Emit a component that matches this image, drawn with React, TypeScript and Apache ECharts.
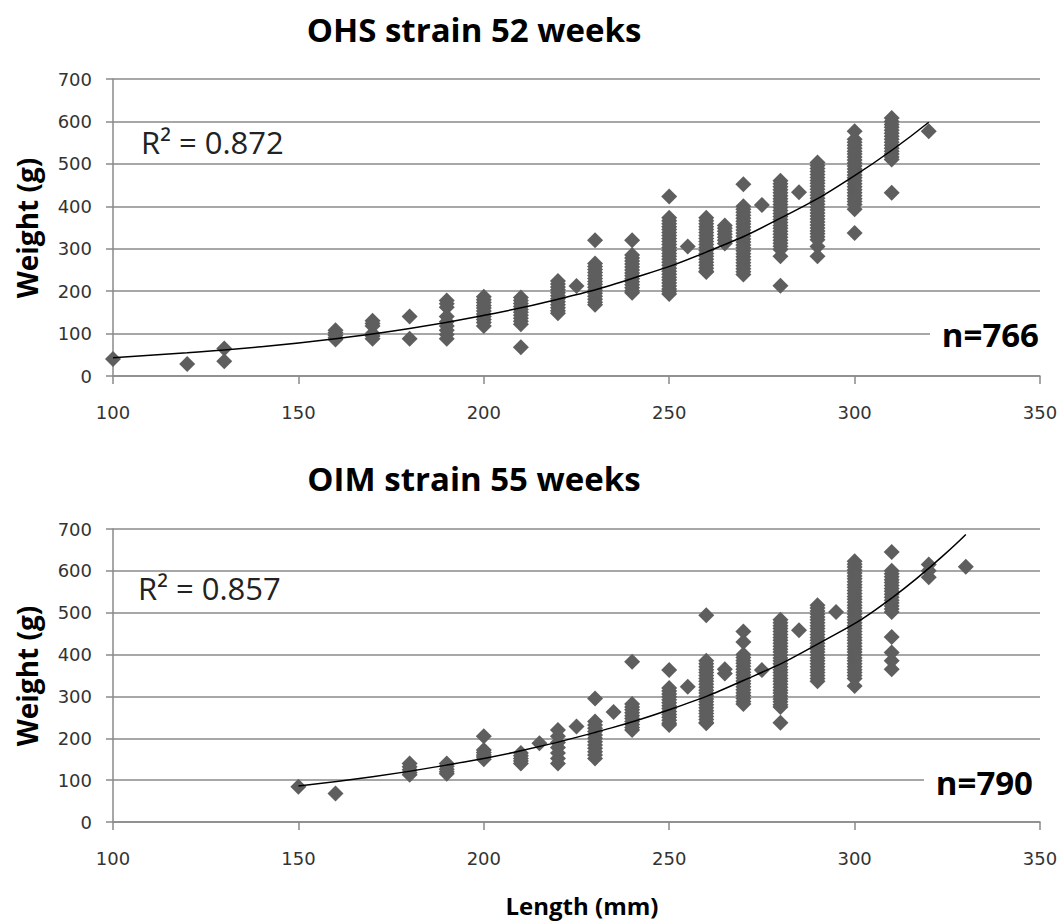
import React, { useEffect, useRef } from "react";
import * as echarts from "echarts";

// ---------- data ----------
const xMin = 100;
const xMax = 350;
const xStep = 50;
const yMin = 0;
const yMax = 700;
const yStep = 100;

// OHS strain 52 weeks: [length (mm), weights (g) observed at that length]
const ohsColumns: [number, number[]][] = [
  [100, [40]],
  [120, [28]],
  [130, [65, 35]],
  [160, [108, 102, 96, 90, 86]],
  [170, [130, 124, 118, 100, 94, 88]],
  [180, [140, 88]],
  [190, [178, 170, 162, 140, 128, 118, 108, 98, 88]],
  [200, [187, 180, 173, 166, 160, 153, 146, 140, 133, 126, 118]],
  [210, [185, 178, 171, 164, 157, 150, 143, 136, 129, 122, 68]],
  [220, [224, 217, 210, 203, 196, 189, 182, 175, 168, 161, 154, 148]],
  [225, [212]],
  [230, [320, 265, 258, 251, 244, 237, 230, 223, 216, 209, 202, 195, 188, 181, 174, 168]],
  [240, [320, 285, 278, 271, 264, 257, 250, 243, 236, 229, 222, 215, 208, 201, 196]],
  [250, [423, 373, 366, 359, 352, 345, 338, 331, 324, 317, 310, 303, 296, 289, 282, 275, 268, 261, 254, 247, 240, 233, 226, 219, 212, 205, 199, 193]],
  [255, [305]],
  [260, [373, 366, 359, 352, 345, 338, 331, 324, 317, 310, 303, 296, 289, 282, 275, 268, 261, 254, 247, 245]],
  [265, [355, 348, 341, 334, 327, 320, 312]],
  [270, [452, 400, 393, 386, 379, 372, 365, 358, 351, 344, 337, 330, 323, 316, 309, 302, 295, 288, 281, 274, 267, 260, 253, 246, 239]],
  [275, [403]],
  [280, [460, 453, 446, 439, 432, 425, 418, 411, 404, 397, 390, 383, 376, 369, 362, 355, 348, 341, 334, 327, 320, 313, 306, 298, 282, 213]],
  [285, [433]],
  [290, [503, 496, 489, 482, 475, 468, 461, 454, 447, 440, 433, 426, 419, 412, 405, 398, 391, 384, 377, 370, 363, 356, 349, 342, 335, 328, 321, 305, 282]],
  [300, [577, 558, 551, 544, 537, 530, 523, 516, 509, 502, 495, 488, 481, 474, 467, 460, 453, 446, 439, 432, 425, 418, 411, 404, 393, 337]],
  [310, [608, 600, 593, 586, 579, 572, 565, 558, 551, 544, 537, 530, 523, 516, 510, 432]],
  [320, [577]],
];
const ohsTrendX = [100, 120, 140, 160, 180, 200, 220, 240, 260, 280, 300, 320];
const ohsTrendY = [43, 55, 69, 88, 112, 143, 181, 230, 292, 372, 472, 598];

// OIM strain 55 weeks
const oimColumns: [number, number[]][] = [
  [150, [84]],
  [160, [68]],
  [180, [140, 132, 125, 118, 113]],
  [190, [140, 133, 126, 120, 115]],
  [200, [205, 172, 166, 160, 155, 150]],
  [210, [165, 158, 152, 146, 140]],
  [215, [188]],
  [220, [220, 205, 190, 178, 165, 152, 140]],
  [225, [228]],
  [230, [295, 240, 232, 224, 216, 208, 200, 192, 184, 176, 168, 160, 152]],
  [235, [263]],
  [240, [383, 282, 275, 268, 261, 254, 247, 240, 233, 226, 220]],
  [250, [363, 320, 313, 306, 299, 292, 285, 278, 271, 264, 257, 250, 243, 236, 232]],
  [255, [323]],
  [260, [494, 385, 378, 371, 364, 357, 350, 343, 336, 329, 322, 315, 308, 301, 294, 287, 280, 273, 266, 259, 252, 245, 238, 236]],
  [265, [365, 355]],
  [270, [455, 430, 400, 393, 386, 379, 372, 365, 358, 351, 344, 337, 330, 323, 316, 309, 302, 295, 288, 282]],
  [275, [363]],
  [280, [483, 476, 469, 462, 455, 448, 441, 434, 427, 420, 413, 406, 399, 392, 385, 378, 371, 364, 357, 350, 343, 336, 329, 322, 315, 308, 301, 294, 287, 280, 275, 237]],
  [285, [458]],
  [290, [518, 511, 504, 497, 490, 483, 476, 469, 462, 455, 448, 441, 434, 427, 420, 413, 406, 399, 392, 385, 378, 371, 364, 357, 350, 343, 336]],
  [295, [502]],
  [300, [623, 616, 609, 602, 595, 588, 581, 574, 567, 560, 553, 546, 539, 532, 525, 518, 511, 504, 497, 490, 483, 476, 469, 462, 455, 448, 441, 434, 427, 420, 413, 406, 399, 392, 385, 378, 371, 364, 357, 350, 343, 325]],
  [310, [645, 600, 593, 586, 579, 572, 565, 558, 551, 544, 537, 530, 523, 516, 509, 502, 442, 405, 385, 365]],
  [320, [615, 600, 585]],
  [330, [610]],
];
const oimTrendX = [150, 170, 190, 210, 230, 250, 270, 290, 310, 330];
const oimTrendY = [86, 108, 136, 170, 214, 268, 338, 425, 535, 687];

const titles = ["OHS strain 52 weeks", "OIM strain 55 weeks"];
const rSquared = ["R\u00B2 = 0.872", "R\u00B2 = 0.857"];
const counts = ["n=766", "n=790"];
const yName = "Weight (g)";
const xName = "Length (mm)";

// ---------- helpers ----------
const toPoints = (cols: [number, number[]][]) =>
  cols.flatMap(([len, ws]) => ws.map((w) => [len, w]));
const zip = (xs: number[], ys: number[]) => xs.map((x, i) => [x, ys[i]]);

const GRID_COLOR = "#8a8a8a";
const MARK_COLOR = "#5e5e5e";
const TICK_FONT = "DejaVu Sans";
const TEXT_FONT = "Open Sans";

const grids = [
  { left: 113, top: 79, width: 927, height: 297 },
  { left: 113, top: 529, width: 927, height: 293 },
];

function makeXAxis(i: number) {
  return {
    type: "value",
    gridIndex: i,
    min: xMin,
    max: xMax,
    interval: xStep,
    axisLine: { show: true, lineStyle: { color: GRID_COLOR, width: 1.5 } },
    axisTick: { show: true, length: 8, lineStyle: { color: GRID_COLOR, width: 1.5 } },
    axisLabel: { margin: 27, fontFamily: TICK_FONT, fontSize: 18, color: "#333" },
    splitLine: { show: false },
  };
}
function makeYAxis(i: number) {
  return {
    type: "value",
    gridIndex: i,
    min: yMin,
    max: yMax,
    interval: yStep,
    axisLine: { show: true, lineStyle: { color: GRID_COLOR, width: 1.5 } },
    axisTick: { show: true, length: 7, lineStyle: { color: GRID_COLOR, width: 1.5 } },
    axisLabel: { margin: 21, fontFamily: TICK_FONT, fontSize: 18, color: "#333" },
    splitLine: { show: true, lineStyle: { color: GRID_COLOR, width: 1.5 } },
  };
}

export default function App() {
  const ref = useRef<HTMLDivElement>(null);
  useEffect(() => {
    if (!ref.current) return;
    const chart = echarts.init(ref.current, undefined, { renderer: "svg" });
    const scatterData = [toPoints(ohsColumns), toPoints(oimColumns)];
    const trendData = [zip(ohsTrendX, ohsTrendY), zip(oimTrendX, oimTrendY)];
    const titleY = [29, 478];
    const rY = [142, 588];
    const rX = [141, 138];
    const nY = [334, 782];
    const nRight = [1039, 1033];
    const nBg = [
      { x: 930, y: 324, w: 110, h: 20 },
      { x: 924, y: 771, w: 116, h: 18 },
    ];
    const weightY = [228, 676];

    const graphic: any[] = [];
    [0, 1].forEach((i) => {
      graphic.push({
        type: "text",
        x: 474,
        y: titleY[i],
        z: 100,
        style: {
          text: titles[i],
          font: `bold 33px "${TEXT_FONT}"`,
          fill: "#000",
          textAlign: "center",
          textVerticalAlign: "middle",
        },
      });
      graphic.push({
        type: "text",
        x: rX[i],
        y: rY[i],
        z: 100,
        style: {
          text: rSquared[i],
          font: `31px "${TEXT_FONT}"`,
          fill: "#222",
          textAlign: "left",
          textVerticalAlign: "middle",
        },
      });
      graphic.push({
        type: "rect",
        z: 99,
        shape: { x: nBg[i].x, y: nBg[i].y, width: nBg[i].w, height: nBg[i].h },
        style: { fill: "#fff" },
      });
      graphic.push({
        type: "text",
        x: nRight[i],
        y: nY[i],
        z: 100,
        style: {
          text: counts[i],
          font: `bold 33px "${TEXT_FONT}"`,
          fill: "#000",
          textAlign: "right",
          textVerticalAlign: "middle",
        },
      });
      graphic.push({
        type: "text",
        x: 27,
        y: weightY[i],
        rotation: Math.PI / 2,
        z: 100,
        style: {
          text: yName,
          font: `bold 28px "${TEXT_FONT}"`,
          fill: "#000",
          textAlign: "center",
          textVerticalAlign: "middle",
        },
      });
    });
    graphic.push({
      type: "text",
      x: 582,
      y: 905,
      z: 100,
      style: {
        text: xName,
        font: `bold 24px "${TEXT_FONT}"`,
        fill: "#000",
        textAlign: "center",
        textVerticalAlign: "middle",
      },
    });

    chart.setOption({
      animation: false,
      backgroundColor: "#fff",
      grid: grids,
      xAxis: [makeXAxis(0), makeXAxis(1)],
      yAxis: [makeYAxis(0), makeYAxis(1)],
      series: [0, 1].flatMap((i) => [
        {
          type: "scatter",
          xAxisIndex: i,
          yAxisIndex: i,
          data: scatterData[i],
          symbol: "diamond",
          symbolSize: 16,
          itemStyle: { color: MARK_COLOR, opacity: 1 },
          z: 2,
        },
        {
          type: "line",
          xAxisIndex: i,
          yAxisIndex: i,
          data: trendData[i],
          smooth: true,
          showSymbol: false,
          symbol: "none",
          lineStyle: { color: "#000", width: 1.5 },
          z: 3,
        },
      ]),
      graphic,
    });
    return () => chart.dispose();
  }, []);
  return (
    <div
      ref={ref}
      style={{ position: "absolute", left: 0, top: 0, width: 1064, height: 923, background: "#fff" }}
    />
  );
}
